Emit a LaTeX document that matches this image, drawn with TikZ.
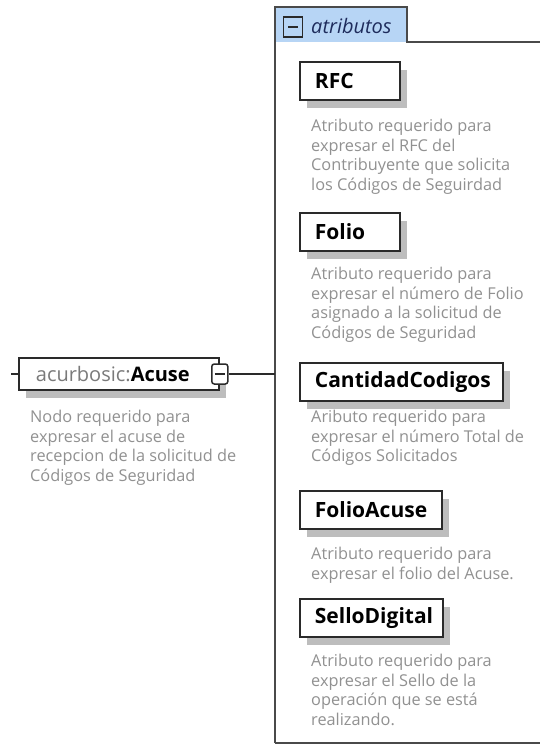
\documentclass[tikz,border=0pt]{standalone}
\usepackage{fontspec}
\setmainfont{Open Sans}
\usetikzlibrary{shadows}
\definecolor{descgray}{HTML}{919191}
\definecolor{namegray}{HTML}{7A7A7A}
\definecolor{boxcol}{HTML}{2A2A2A}
\definecolor{framecol}{HTML}{4A4A4A}
\definecolor{shadowcol}{HTML}{BDBDBD}
\definecolor{tabblue}{HTML}{B7D5F5}
\definecolor{tabtext}{HTML}{1E2C5C}
\newcommand\lblfont{\fontsize{21}{25}\selectfont\bfseries}
\newcommand\descfont{\fontsize{16.3}{19.5}\selectfont}
\tikzset{
  lbl/.style={draw=boxcol, line width=1.8pt, fill=white,
    general shadow={fill=shadowcol, shadow xshift=7pt, shadow yshift=-8pt},
    minimum height=38pt, inner xsep=15pt, inner ysep=0pt, anchor=north west,
    font=\lblfont, text=black, align=left},
  desc/.style={font=\descfont, text=descgray, align=left, anchor=north west, inner sep=0pt},
  conn/.style={draw=boxcol, line width=1.3pt},
  minusicon/.style={draw=boxcol, line width=1.5pt, inner sep=0pt,
    path picture={\draw[boxcol, line width=1.5pt]
      ([xshift=-5pt]path picture bounding box.center) --
      ([xshift=5pt]path picture bounding box.center);}},
}
\begin{document}
\begin{tikzpicture}[x=1pt,y=-1pt]
\useasboundingbox (0,0) rectangle (540,744);
\fill[white] (0,0) rectangle (540,744);
% attribute group frame and tab
\fill[tabblue] (275,7) rectangle (407,42);
\draw[framecol, line width=1.6pt] (275,743) -- (275,7) -- (407,7) -- (407,42) -- (540,42);
\draw[framecol, line width=1.6pt] (275,743) -- (540,743);
\node[minusicon, minimum width=19pt, minimum height=20pt] (tabmin) at (293,27) {};
\node[anchor=west, inner sep=0pt, font=\fontsize{20}{24}\selectfont\itshape, text=tabtext] (tablbl) at (311,26) {atributos};
\coordinate (grpin) at (275,374);
% attributes
\node[lbl, text width=70pt] (rfc) at (299,61) {RFC};
\node[desc] (rfcd) at (311,119) {Atributo requerido para\\expresar el RFC del\\Contribuyente que solicita\\los Códigos de Seguirdad};
\node[lbl, text width=70pt] (folio) at (299,212) {Folio};
\node[desc] (foliod) at (311,267) {Atributo requerido para\\expresar el número de Folio\\asignado a la solicitud de\\Códigos de Seguridad};
\node[lbl, text width=173pt] (cant) at (299,362) {CantidadCodigos};
\node[desc] (cantd) at (311,410) {Aributo requerido para\\expresar el número Total de\\Códigos Solicitados};
\node[lbl, text width=112pt] (facuse) at (299,490) {FolioAcuse};
\node[desc] (facused) at (311,547) {Atributo requerido para\\expresar el folio del Acuse.};
\node[lbl, text width=113pt] (sello) at (299,598) {SelloDigital};
\node[desc] (sellod) at (311,654) {Atributo requerido para\\expresar el Sello de la\\operación que se está\\realizando.};
% element node
\node[draw=boxcol, line width=1.8pt, fill=white,
  general shadow={fill=shadowcol, shadow xshift=7pt, shadow yshift=-8pt},
  minimum width=200pt, minimum height=32pt, anchor=west, inner xsep=17pt, inner ysep=0pt,
  text width=166pt, align=left, font=\fontsize{20}{24}\selectfont] (acuse) at (18,374)
  {\textcolor{namegray}{acurbosic:}\textbf{Acuse}};
\node[minusicon, fill=white, rounded corners=2.5pt, minimum width=16pt, minimum height=20pt] (acmin) at (acuse.east) {};
\node[desc] (acused) at (30,410) {Nodo requerido para\\expresar el acuse de\\recepcion de la solicitud de\\Códigos de Seguridad};
\coordinate (stub) at (11,374);
\draw[conn] (stub) -- (acuse.west);
\draw[conn] (acmin.east) -- (grpin);
\end{tikzpicture}
\end{document}
